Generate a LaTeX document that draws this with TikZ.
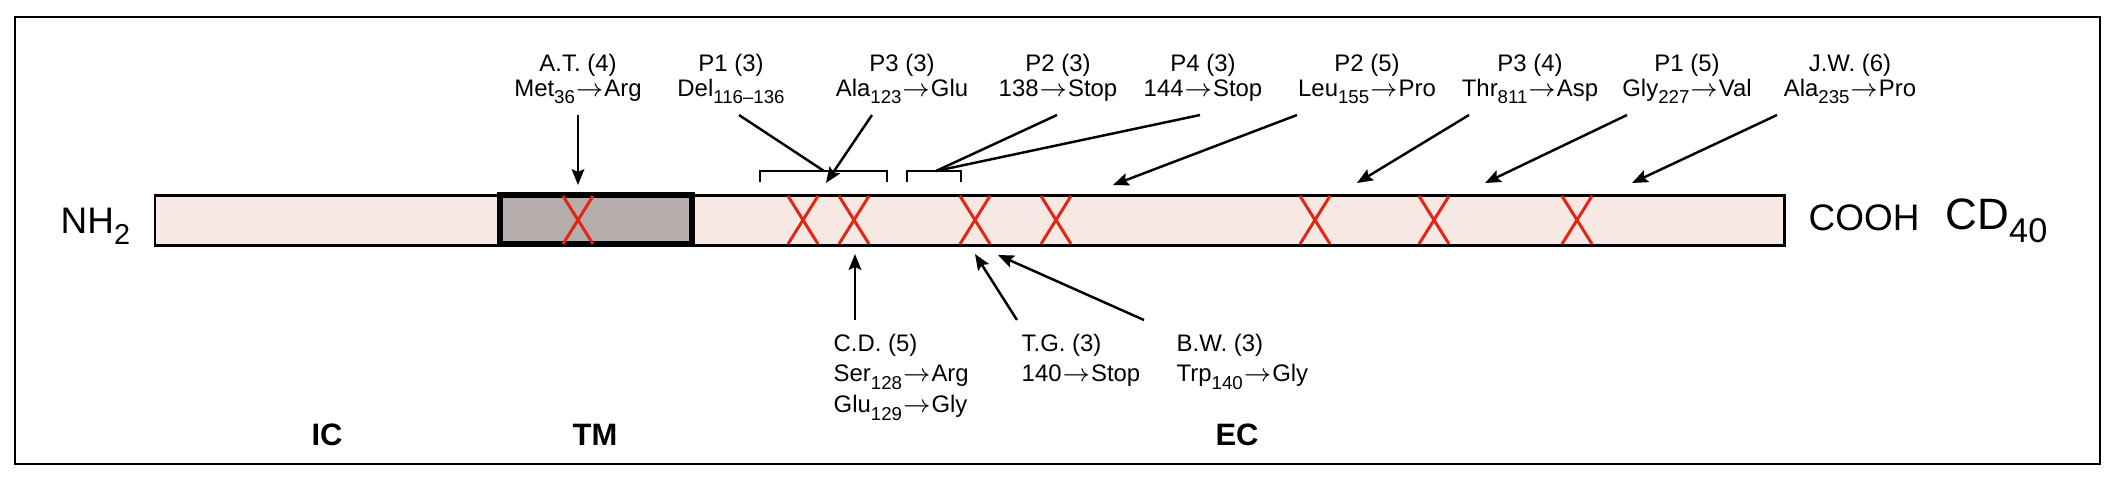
\documentclass[tikz,border=0pt]{standalone}
\usepackage{graphicx}
\usepackage{fontspec}
\setmainfont{Liberation Sans}
\usetikzlibrary{arrows.meta,positioning,calc}
\definecolor{barpink}{RGB}{248,232,228}
\definecolor{tmgrey}{RGB}{182,174,172}
\definecolor{mutred}{RGB}{228,36,20}
\newcommand{\lo}[1]{\raisebox{-0.3em}{\scalebox{0.78}{#1}}}
\newcommand{\tto}{\kern0.03em$\rightarrow$\kern0.03em}
\newcommand{\mut}[3]{#1\lo{#2}\tto#3}

\begin{document}
\begin{tikzpicture}[
  x=0.01cm,y=-0.01cm,
  every node/.style={inner sep=0pt},
  toplab/.style={anchor=north,align=center,font=\fontsize{6.8pt}{7.1pt}\selectfont},
  botlab/.style={anchor=north west,align=left,font=\fontsize{6.8pt}{8.8pt}\selectfont},
  region/.style={font=\fontsize{8.8pt}{9pt}\selectfont\bfseries},
  term/.style={anchor=base west,font=\fontsize{10.5pt}{11pt}\selectfont},
  xmk/.style={mutred,line width=0.85pt},
  arr/.style={-{Stealth[length=4.5pt,width=3.6pt,inset=0.8pt]},line width=0.7pt},
  tie/.style={line width=0.7pt}]
\useasboundingbox (0,0) rectangle (2120,484);
%--- Frame and protein ---
\draw[line width=0.7pt] (15,17) rectangle (2100,464);
\draw[fill=barpink,line width=0.85pt] (155,195) rectangle (1784,245);
\draw[fill=tmgrey,line width=1.7pt] (500,195) rectangle (692,244);
\foreach \xx in {578,803,854,975,1056,1315,1434,1577}
  \draw[xmk] ({\xx-15},196) -- ({\xx+15},244) ({\xx+15},196) -- ({\xx-15},244);
%--- Brackets ---
\draw[tie] (760,182) -- (760,171) -- (887,171) -- (887,182);
\draw[tie] (907,182) -- (907,171) -- (961,171) -- (961,182);
\coordinate (brA) at (824,171);
\coordinate (brB) at (936,171);
%--- Ends on the bar ---
\coordinate (tAT) at (578,185);
\coordinate (tP3a) at (826,183);
\coordinate (tP2b) at (1113,185);
\coordinate (tP3b) at (1357,183);
\coordinate (tP1b) at (1485,183);
\coordinate (tJW) at (1632,183);
\coordinate (tCD) at (855,254);
\coordinate (tTG) at (975,254);
\coordinate (tBW) at (998,255);
%--- Terminals ---
\node[term] (nh) at (60,233) {NH\lo{2}};
\node[term] (cooh) at (1808,230) {COOH};
\node[term,font=\fontsize{12.5pt}{13pt}\selectfont] (cd) at (1945,229) {CD\lo{40}};
%--- Top labels ---
\node[toplab] (at)  at (578,53)  {A.T. (4)\\\mut{Met}{36}{Arg}};
\node[toplab] (p1a) at (731,53)  {P1 (3)\\Del\lo{116–136}};
\node[toplab] (p3a) at (902,53)  {P3 (3)\\\mut{Ala}{123}{Glu}};
\node[toplab] (p2a) at (1058,53) {P2 (3)\\138\tto Stop};
\node[toplab] (p4a) at (1203,53) {P4 (3)\\144\tto Stop};
\node[toplab] (p2b) at (1367,53) {P2 (5)\\\mut{Leu}{155}{Pro}};
\node[toplab] (p3b) at (1530,53) {P3 (4)\\\mut{Thr}{811}{Asp}};
\node[toplab] (p1b) at (1687,53) {P1 (5)\\\mut{Gly}{227}{Val}};
\node[toplab] (jw)  at (1850,53) {J.W. (6)\\\mut{Ala}{235}{Pro}};
%--- Bottom labels ---
\node[botlab] (cdl) at (833,333)  {C.D. (5)\\\mut{Ser}{128}{Arg}\\\mut{Glu}{129}{Gly}};
\node[botlab] (tg)  at (1021,333) {T.G. (3)\\140\tto Stop};
\node[botlab] (bw)  at (1176,333) {B.W. (3)\\\mut{Trp}{140}{Gly}};
%--- Regions ---
\node[region] (ic) at (327,435)  {IC};
\node[region] (tm) at (595,435)  {TM};
\node[region] (ec) at (1237,435) {EC};
%--- Arrows ---
\draw[arr] ($(at.north)+(0,62)$) -- (tAT);
\draw[tie] ($(p1a.north)+(8,62)$) -- (brA);
\draw[arr] ($(p3a.north)+(-30,62)$) -- (tP3a);
\draw[tie] ($(p2a.north)+(-1,62)$) -- (brB);
\draw[tie] ($(p4a.north)+(-3,62)$) -- (brB);
\draw[arr] ($(p2b.north)+(-70,62)$) -- (tP2b);
\draw[arr] ($(p3b.north)+(-61,62)$) -- (tP3b);
\draw[arr] ($(p1b.north)+(-60,62)$) -- (tP1b);
\draw[arr] ($(jw.north)+(-73,62)$) -- (tJW);
\draw[arr] ($(cdl.north west)+(22,-13)$) -- (tCD);
\draw[arr] ($(tg.north west)+(-4,-13)$) -- (tTG);
\draw[arr] ($(bw.north west)+(-32,-13)$) -- (tBW);
\end{tikzpicture}
\end{document}
